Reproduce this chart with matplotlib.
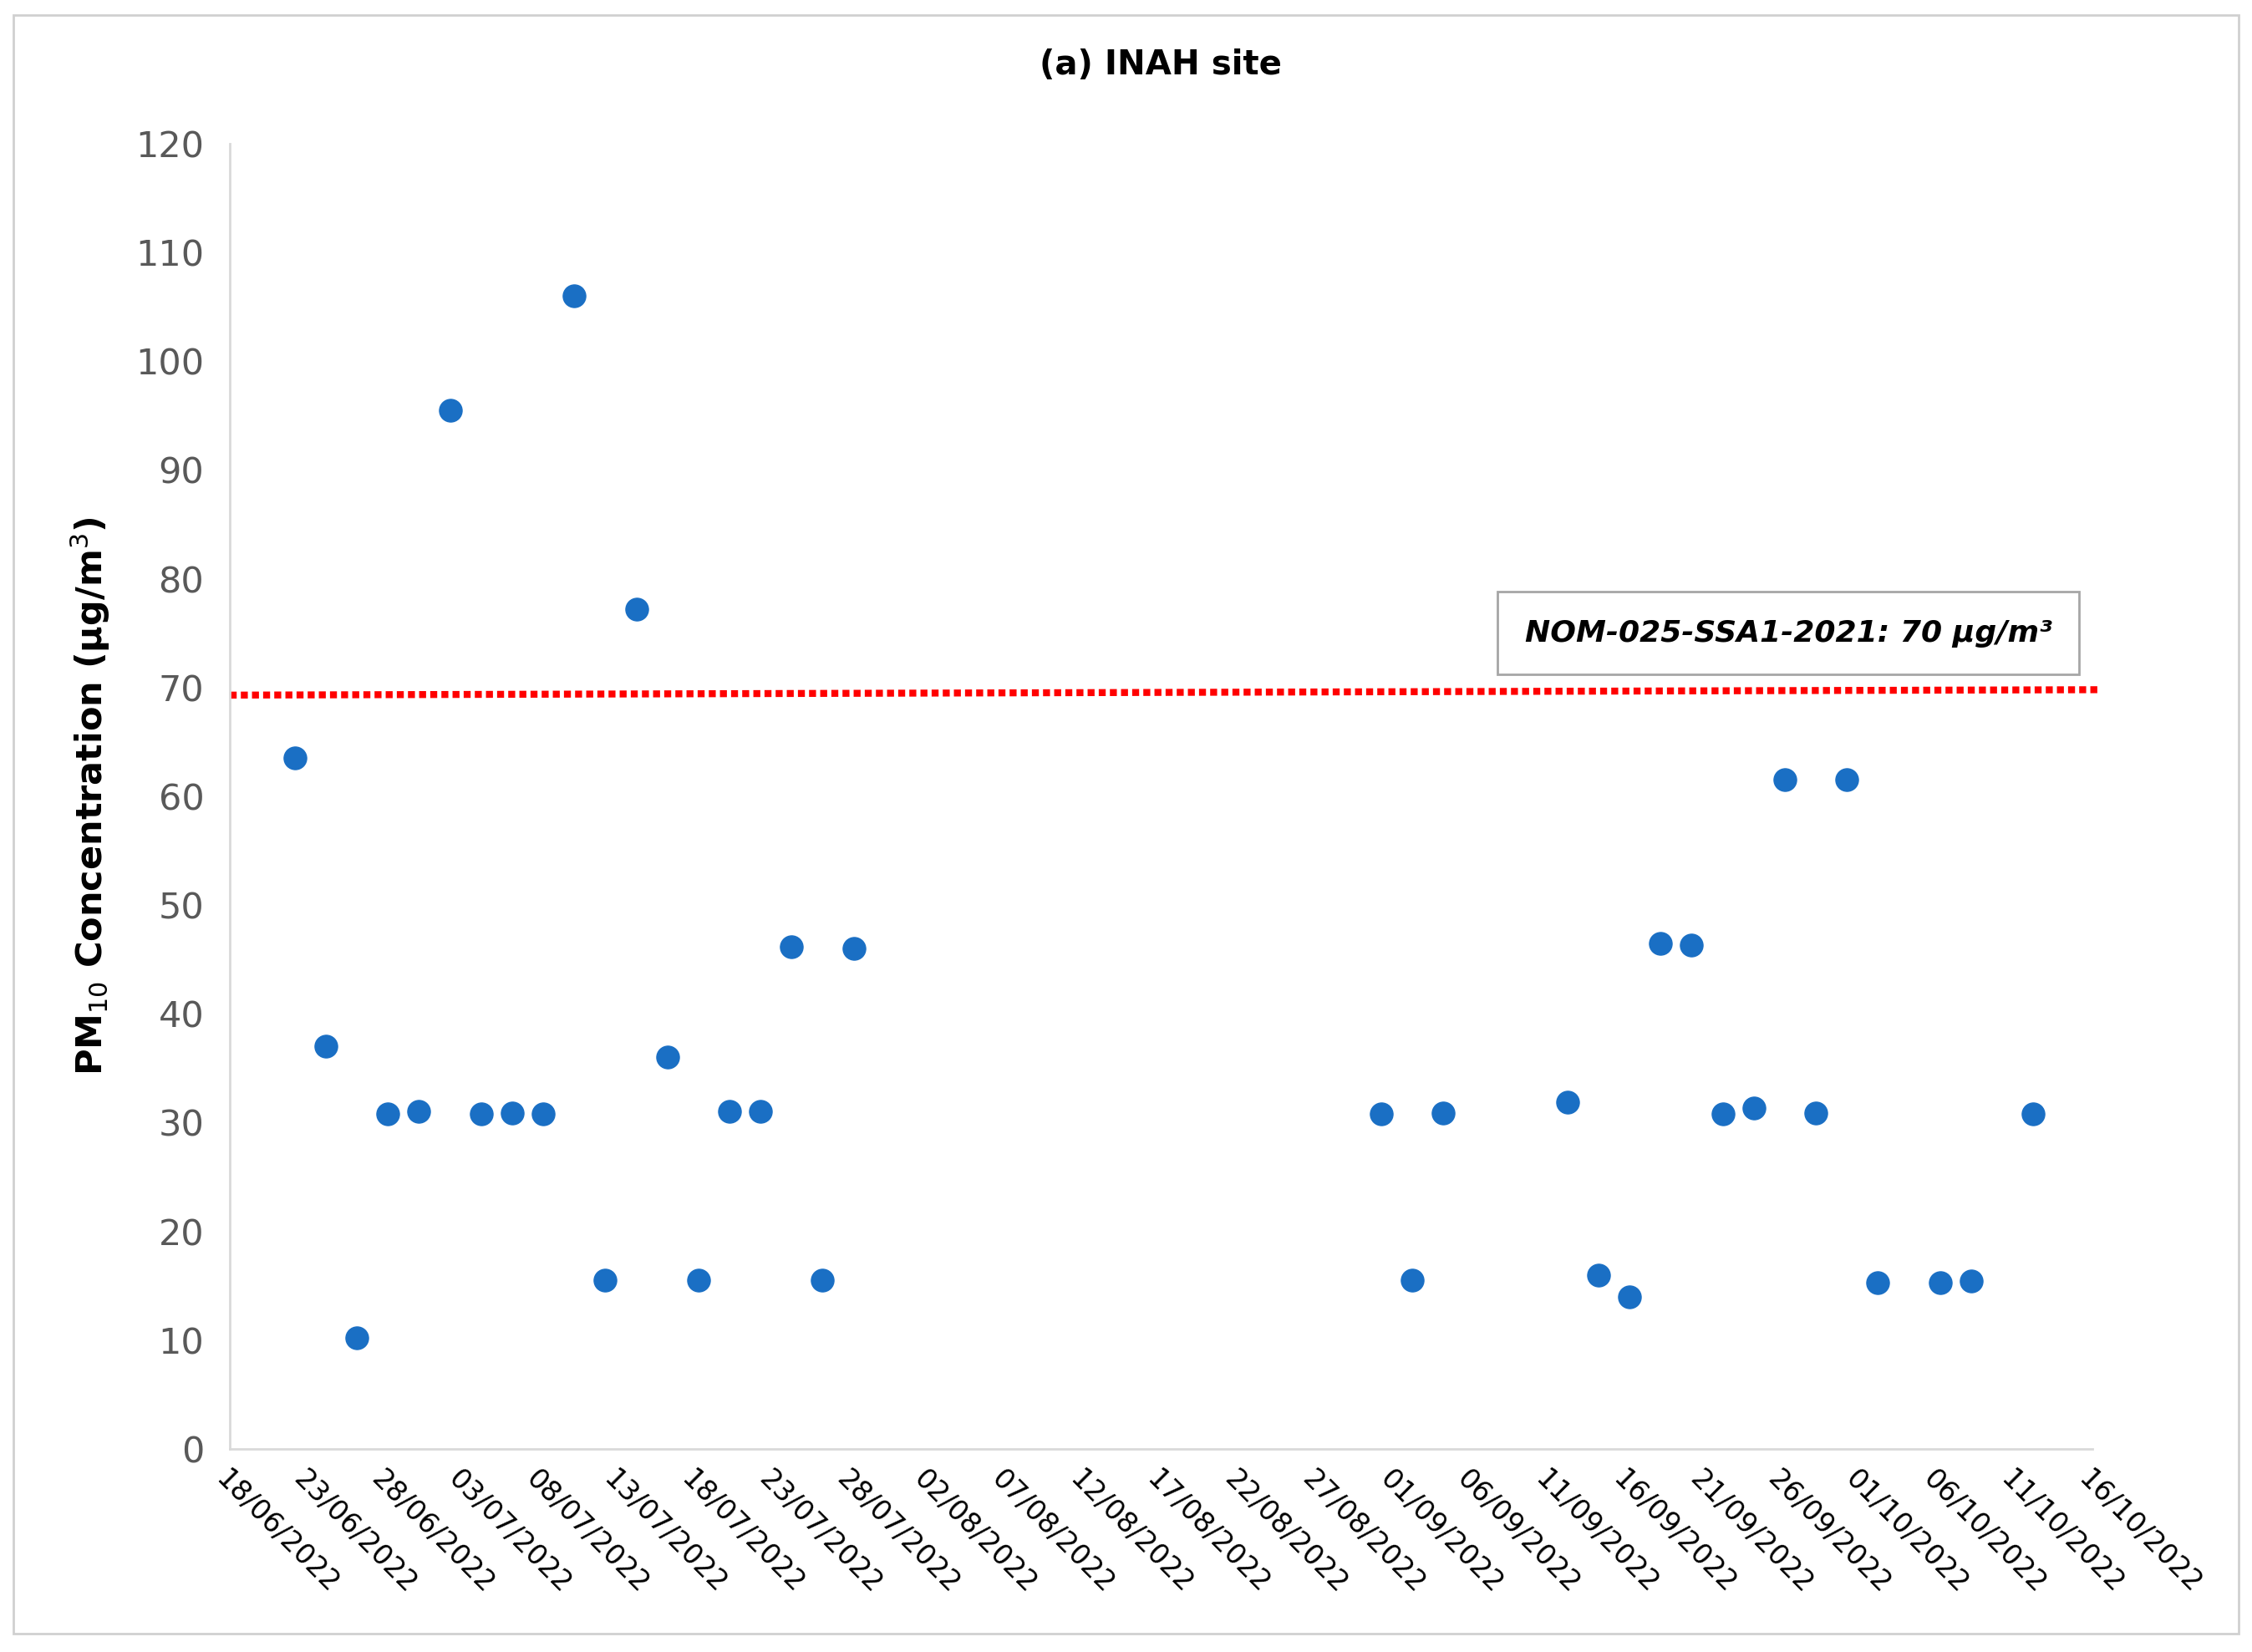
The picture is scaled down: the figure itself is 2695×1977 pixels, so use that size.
import matplotlib.pyplot as plt
import matplotlib.dates as mdates
from matplotlib.patches import Rectangle
import datetime as dt

dates = ["22/06/2022", "24/06/2022", "26/06/2022", "28/06/2022", "30/06/2022",
         "02/07/2022", "04/07/2022", "06/07/2022", "08/07/2022", "10/07/2022",
         "12/07/2022", "14/07/2022", "16/07/2022", "18/07/2022", "20/07/2022",
         "22/07/2022", "24/07/2022", "26/07/2022", "28/07/2022",
         "31/08/2022", "02/09/2022", "04/09/2022", "12/09/2022", "14/09/2022",
         "16/09/2022", "18/09/2022", "20/09/2022", "22/09/2022", "24/09/2022",
         "26/09/2022", "28/09/2022", "30/09/2022", "02/10/2022", "06/10/2022",
         "08/10/2022", "12/10/2022"]
pm10 = [63.5, 37.0, 10.2, 30.8, 31.0, 95.5, 30.8, 30.9, 30.8, 106.0,
        15.5, 77.2, 36.0, 15.5, 31.0, 31.0, 46.2, 15.5, 46.0,
        30.8, 15.5, 30.9, 31.9, 16.0, 14.0, 46.5, 46.3, 30.8, 31.3,
        61.5, 30.9, 61.5, 15.3, 15.3, 15.4, 30.8]
limit_ends = [69.3, 69.8]

x = [dt.datetime.strptime(d, "%d/%m/%Y") + dt.timedelta(days=0.2) for d in dates]
start = dt.datetime(2022, 6, 18)
end = dt.datetime(2022, 10, 16)

fig = plt.figure(figsize=(26.95, 19.77), dpi=100)
fig.patches.append(Rectangle((0.006, 0.011), 0.988, 0.98, transform=fig.transFigure,
                             fill=False, edgecolor="#d0d0d0", linewidth=2))
ax = fig.add_axes([0.102, 0.123, 0.827, 0.79])

ax.plot([start, end + dt.timedelta(days=0.5)], limit_ends, linestyle=(0, (1, 0.6)),
        color="red", linewidth=6, clip_on=False, zorder=2)
ax.scatter(x, pm10, s=380, color="#1a6fc4", zorder=3)

ax.set_xlim(start, end)
ax.set_ylim(0, 120)
ax.set_yticks(range(0, 121, 10))
ax.set_xticks([start + dt.timedelta(days=5 * i) for i in range(25)])
ax.xaxis.set_major_formatter(mdates.DateFormatter("%d/%m/%Y"))
for lab in ax.get_xticklabels():
    lab.set_rotation(-45)
    lab.set_ha("left")
    lab.set_rotation_mode("anchor")
ax.tick_params(axis="x", labelsize=24, length=0, pad=14)
ax.tick_params(axis="y", labelsize=31, length=0, pad=22, colors="#595959")
ax.tick_params(axis="x", colors="black")
for s in ["top", "right"]:
    ax.spines[s].set_visible(False)
for s in ["left", "bottom"]:
    ax.spines[s].set_color("#d9d9d9")
    ax.spines[s].set_linewidth(2)

ax.set_title("(a) INAH site", fontsize=29, fontweight="bold", pad=60)
ax.set_ylabel("PM$_{10}$ Concentration (µg/m$^3$)", fontsize=31, fontweight="bold", labelpad=20)

ax.text(0.837, 0.625, "NOM-025-SSA1-2021: 70 µg/m³", transform=ax.transAxes,
        fontsize=26, fontweight="bold", style="italic", ha="center", va="center",
        bbox=dict(boxstyle="square,pad=0.9", facecolor="white", edgecolor="#a6a6a6", linewidth=2))

fig.savefig("out.png", dpi=100)
